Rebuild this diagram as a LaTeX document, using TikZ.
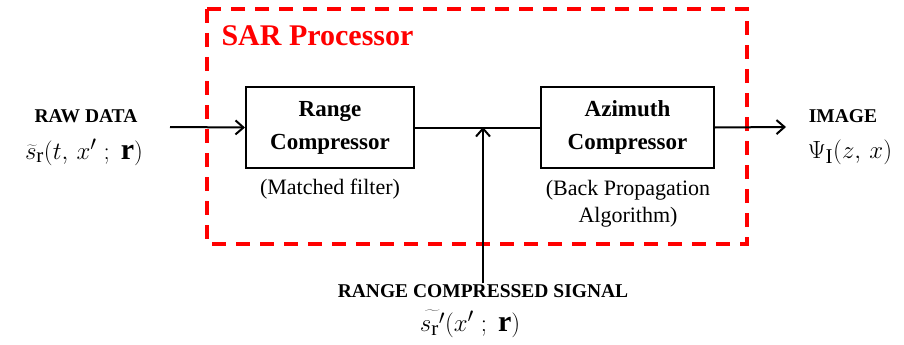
\documentclass[tikz,border=0pt]{standalone}
\usepackage{fontspec}
\setmainfont{Liberation Serif}
\usetikzlibrary{arrows.meta}
\definecolor{sarred}{RGB}{255,0,0}
\tikzset{
  blockbox/.style={draw=black, line width=2pt, minimum width=168pt, minimum height=81pt, inner sep=0pt},
  blocktext/.style={font=\fontsize{23}{33}\selectfont\bfseries, align=center},
  notetext/.style={font=\fontsize{22}{27}\selectfont, align=center},
  captext/.style={font=\fontsize{19.5}{22}\selectfont\bfseries, inner sep=1pt},
  mathtext/.style={font=\fontsize{30}{34}\selectfont, inner sep=1pt},
  conn/.style={line width=2pt, draw=black},
  arr/.style={conn, -{Straight Barb[length=8pt,width=14pt,line width=2pt]}},
}
\begin{document}
\begin{tikzpicture}[x=1pt,y=-1pt]
\useasboundingbox (0,0) rectangle (904,345);
% dashed SAR processor box
\draw[sarred, line width=4pt, dash pattern=on 14pt off 10pt] (207,9) rectangle (747,244);
\node[anchor=west, text=sarred, font=\fontsize{30}{34}\selectfont\bfseries] (sar) at (218,36) {SAR Processor};
% blocks
\node[blockbox] (rc) at (330,127.5) {};
\node[blocktext] (rct) at (330,127.5) {Range\\Compressor};
\node[blockbox, minimum width=173pt] (ac) at (627.5,127.5) {};
\node[blocktext] (act) at (627.5,127.5) {Azimuth\\Compressor};
\node[notetext] (mf) at (330,189) {(Matched filter)};
\node[notetext] (bp) at (628,204) {(Back Propagation\\Algorithm)};
% inputs/outputs
\node[captext] (raw) at (86,116) {RAW DATA};
\node[mathtext] (rawf) at (84,152) {$\widetilde{s}_{\mathrm{r}}(t,\,x'\;;\;\mathbf{r})$};
\node[captext] (img) at (843,116) {IMAGE};
\node[mathtext] (imgf) at (850,152) {$\Psi_{\mathrm{I}}(z,\,x)$};
\node[captext] (rcs) at (483,291) {RANGE COMPRESSED SIGNAL};
\node[mathtext] (rcsf) at (470,324) {$\widetilde{s_{\mathrm{r}}{}'}(x'\;;\;\mathbf{r})$};
% connectors
\coordinate (inL) at (170,127);
\coordinate (outR) at (786,127);
\coordinate (junc) at (483,127);
\coordinate (vbot) at (483,283);
\draw[arr] (inL) -- (rc.west);
\draw[conn] (rc.east) -- (ac.west);
\draw[arr] (vbot) -- (junc);
\draw[arr] (ac.east) -- (outR);
\end{tikzpicture}
\end{document}
